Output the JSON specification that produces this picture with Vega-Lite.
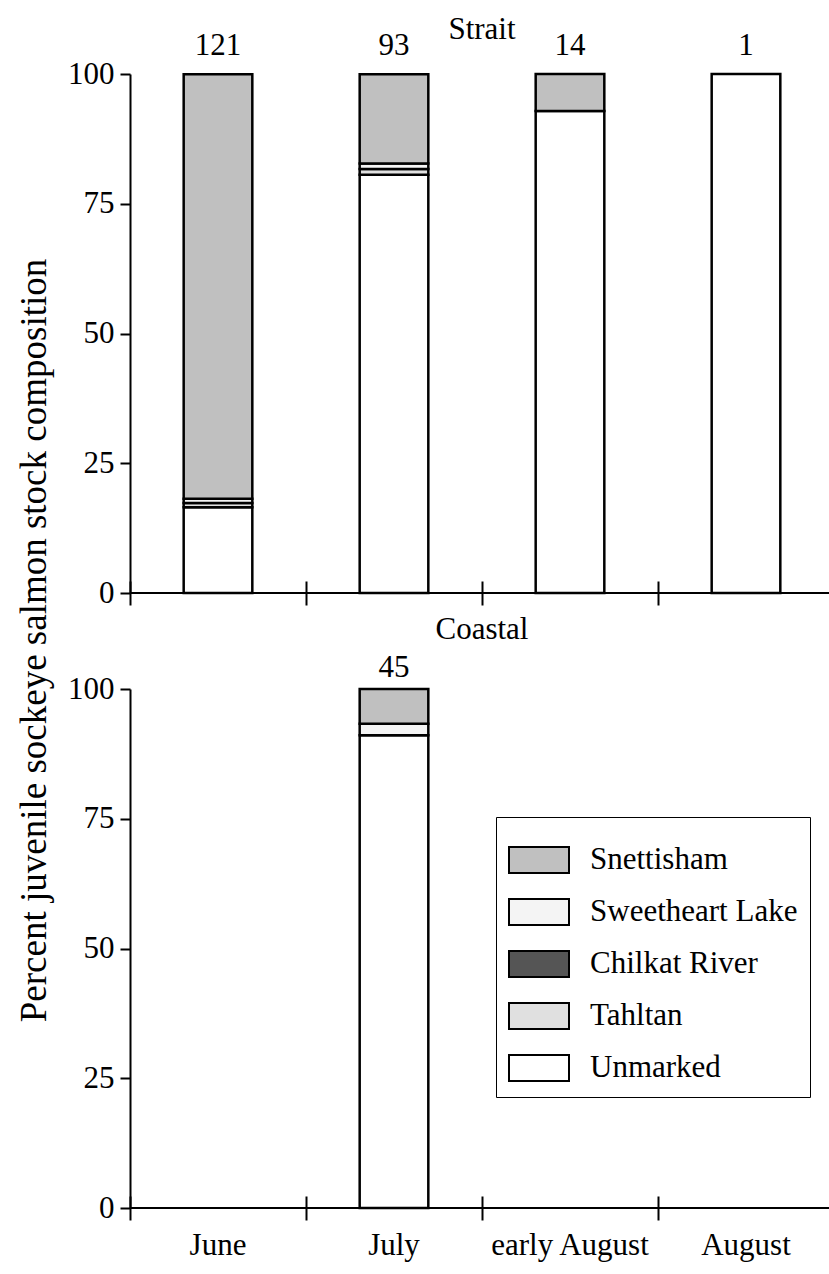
{
  "$schema": "https://vega.github.io/schema/vega-lite/v6.json",
  "background": "white",
  "padding": {"left": 15, "top": 14, "right": 0, "bottom": 5},
  "datasets": {
    "strait": [
      {"period": "June", "stock": "Unmarked", "percent": 16.5},
      {"period": "June", "stock": "Tahltan", "percent": 0.83},
      {"period": "June", "stock": "Chilkat River", "percent": 0},
      {"period": "June", "stock": "Sweetheart Lake", "percent": 0.83},
      {"period": "June", "stock": "Snettisham", "percent": 81.8},
      {"period": "July", "stock": "Unmarked", "percent": 80.6},
      {"period": "July", "stock": "Tahltan", "percent": 1.08},
      {"period": "July", "stock": "Chilkat River", "percent": 0},
      {"period": "July", "stock": "Sweetheart Lake", "percent": 1.08},
      {"period": "July", "stock": "Snettisham", "percent": 17.2},
      {"period": "early August", "stock": "Unmarked", "percent": 92.86},
      {"period": "early August", "stock": "Snettisham", "percent": 7.14},
      {"period": "August", "stock": "Unmarked", "percent": 100}
    ],
    "coastal": [
      {"period": "July", "stock": "Unmarked", "percent": 91.1},
      {"period": "July", "stock": "Sweetheart Lake", "percent": 2.2},
      {"period": "July", "stock": "Snettisham", "percent": 6.7}
    ],
    "strait_n": [
      {"period": "June", "n": 121},
      {"period": "July", "n": 93},
      {"period": "early August", "n": 14},
      {"period": "August", "n": 1}
    ],
    "coastal_n": [
      {"period": "July", "n": 45}
    ]
  },
  "spacing": 96,
  "bounds": "flush",
  "resolve": {"legend": {"color": "independent"}, "scale": {"color": "independent"}},
  "vconcat": [
    {
      "width": 704,
      "height": 519,
      "title": {"text": "Strait", "offset": -16},
      "layer": [
        {
          "data": {"name": "strait"},
          "mark": {"type": "bar", "stroke": "black", "strokeWidth": 2.5, "width": {"band": 0.39}},
          "encoding": {
            "x": {"field": "period", "type": "nominal", "sort": null,
              "scale": {"domain": ["June", "July", "early August", "August"], "paddingInner": 0, "paddingOuter": 0},
              "axis": {"labels": false, "title": null, "bandPosition": 0, "tickSize": 24, "offset": -12, "domain": false, "tickWidth": 2, "tickColor": "black"}},
            "y": {"field": "percent", "type": "quantitative", "stack": "zero",
              "scale": {"domain": [0, 100], "nice": false},
              "axis": {"values": [0, 25, 50, 75, 100], "title": "Percent juvenile sockeye salmon stock composition",
                "titleFontSize": 37,
                "titleX": -96, "titleY": 566, "titleAngle": -90, "titleAlign": "center", "titleBaseline": "middle"}},
            "color": {"field": "stock", "type": "nominal",
              "sort": ["Unmarked", "Tahltan", "Chilkat River", "Sweetheart Lake", "Snettisham"],
              "scale": {"domain": ["Unmarked", "Tahltan", "Chilkat River", "Sweetheart Lake", "Snettisham"],
                "range": ["#ffffff", "#e0e0e0", "#555555", "#f4f4f4", "#c0c0c0"]},
              "legend": null}
          }
        },
        {
          "data": {"name": "strait_n"},
          "mark": {"type": "text", "baseline": "alphabetic", "dy": -19, "fontSize": 31, "font": "Liberation Serif", "color": "black"},
          "encoding": {
            "x": {"field": "period", "type": "nominal", "sort": null},
            "y": {"datum": 100},
            "text": {"field": "n", "type": "quantitative"}
          }
        },
        {
          "data": {"name": "strait_n"},
          "mark": {"type": "rule", "color": "black", "strokeWidth": 2},
          "encoding": {"y": {"datum": 0}}
        }
      ]
    },
    {
      "width": 704,
      "height": 519,
      "title": {"text": "Coastal", "offset": 6},
      "layer": [
        {
          "data": {"name": "coastal"},
          "mark": {"type": "bar", "stroke": "black", "strokeWidth": 2.5, "width": {"band": 0.39}},
          "encoding": {
            "x": {"field": "period", "type": "nominal", "sort": null,
              "scale": {"domain": ["June", "July", "early August", "August"], "paddingInner": 0, "paddingOuter": 0},
              "axis": {"title": null, "bandPosition": 0, "labelAngle": 0, "labelPadding": 10, "tickSize": 24, "offset": -12, "domain": false, "tickWidth": 2, "tickColor": "black"}},
            "y": {"field": "percent", "type": "quantitative", "stack": "zero",
              "scale": {"domain": [0, 100], "nice": false},
              "axis": {"values": [0, 25, 50, 75, 100], "title": null}},
            "color": {"field": "stock", "type": "nominal",
              "sort": ["Unmarked", "Tahltan", "Chilkat River", "Sweetheart Lake", "Snettisham"],
              "scale": {"domain": ["Unmarked", "Tahltan", "Chilkat River", "Sweetheart Lake", "Snettisham"],
                "range": ["#ffffff", "#e0e0e0", "#555555", "#f4f4f4", "#c0c0c0"]},
              "legend": {"title": null, "orient": "none", "legendX": 366, "legendY": 128,
                "values": ["Snettisham", "Sweetheart Lake", "Chilkat River", "Tahltan", "Unmarked"],
                "strokeColor": "black", "padding": 12,
                "symbolType": "M-1,-0.43H1V0.43H-1Z", "symbolSize": 3600,
                "symbolStrokeColor": "black", "symbolStrokeWidth": 2, "symbolOpacity": 1,
                "labelFont": "Liberation Serif", "labelFontSize": 31, "labelColor": "black",
                "labelOffset": 20, "rowPadding": 4, "labelLimit": 400}}
          }
        },
        {
          "data": {"name": "coastal_n"},
          "mark": {"type": "text", "baseline": "alphabetic", "dy": -12, "fontSize": 31, "font": "Liberation Serif", "color": "black"},
          "encoding": {
            "x": {"field": "period", "type": "nominal", "sort": null},
            "y": {"datum": 100},
            "text": {"field": "n", "type": "quantitative"}
          }
        },
        {
          "data": {"name": "coastal_n"},
          "mark": {"type": "rule", "color": "black", "strokeWidth": 2},
          "encoding": {"y": {"datum": 0}}
        }
      ]
    }
  ],
  "config": {
    "view": {"stroke": null},
    "font": "Liberation Serif",
    "axis": {
      "grid": false,
      "domainColor": "black",
      "domainWidth": 2,
      "tickColor": "black",
      "tickWidth": 2,
      "labelFont": "Liberation Serif",
      "labelFontSize": 31,
      "labelColor": "black",
      "titleFont": "Liberation Serif",
      "titleFontSize": 31,
      "titleFontWeight": "normal",
      "titleColor": "black"
    },
    "axisY": {"tickSize": 10, "labelPadding": 6},
    "title": {"font": "Liberation Serif", "fontSize": 31, "fontWeight": "normal", "color": "black", "anchor": "middle"}
  }
}
